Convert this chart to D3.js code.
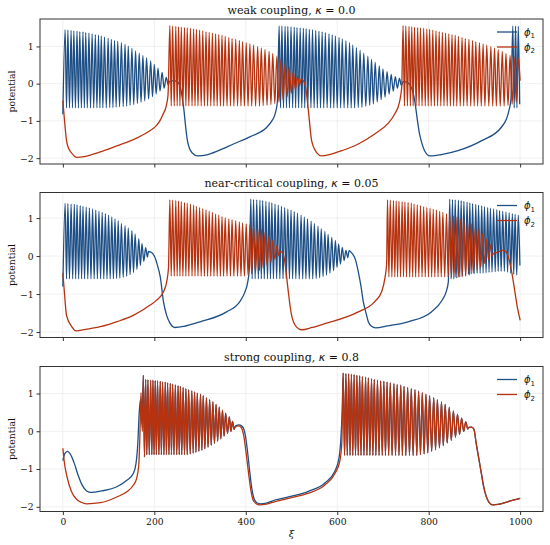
<!DOCTYPE html>
<html><head><meta charset="utf-8">
<script src="https://cdn.jsdelivr.net/npm/d3@7"></script>
<style>body{margin:0;background:#fff}svg{display:block}</style>
</head><body>
<svg id="c" width="550" height="545"></svg>
<script>
// ---------- labels ----------
const titles = ["weak coupling, ", "near-critical coupling, ", "strong coupling, "];
const kappas = ["0.0", "0.05", "0.8"];
const seriesNames = ["1", "2"];
const xTicks = [0, 200, 400, 600, 800, 1000];
const yTicks = [-2, -1, 0, 1];
const xiRange = [0, 1000];

// ---------- weak coupling (kappa = 0.0) ----------
const w1_slow = [[0,-0.82],[233,0.06],[243,0.08],[252,0.03],[258,-0.15],[262,-0.45],[265,-0.73],[268,-1.1],[272,-1.5],[277,-1.74],[283,-1.86],[295,-1.94],[315,-1.91],[340,-1.8],[373,-1.62],[410,-1.42],[446,-1.17],[457,-1.0],[464,-0.82],[469,-0.5],
 [744,0.06],[752,0.04],[760,-0.05],[766,-0.25],[770,-0.5],[775,-0.95],[780,-1.35],[784,-1.55],[791,-1.8],[803,-1.94],[830,-1.9],[864,-1.8],[916,-1.53],[959,-1.17],[970,-0.95],[976,-0.7],[980,-0.4]];
const w1_b1_t = [5,11,18,24,31,37,44,50,57,64,71,78,84,91,99,106,113,120,128,136,143,151,159,167,175,183,192,200,208,217,226];
const w1_b1_pk = [1.45,1.44,1.43,1.42,1.41,1.40,1.39,1.37,1.36,1.34,1.32,1.30,1.28,1.25,1.22,1.19,1.16,1.14,1.10,1.06,1.01,0.95,0.88,0.82,0.76,0.69,0.61,0.52,0.42,0.30,0.17];
const w1_b1_tr = [-0.65,-0.65,-0.65,-0.65,-0.65,-0.65,-0.65,-0.65,-0.65,-0.65,-0.65,-0.65,-0.65,-0.65,-0.64,-0.64,-0.63,-0.62,-0.61,-0.60,-0.58,-0.56,-0.53,-0.50,-0.46,-0.41,-0.35,-0.28,-0.20,-0.12,-0.04];
const w1_b2_t = [473,479,486,492,499,506,512,519,526,532,539,546,553,560,567,574,582,589,596,604,611,619,627,634,642,650,658,667,675,683,692,700,709,718,727,736];
const w1_b2_pk = [1.55,1.55,1.54,1.54,1.53,1.52,1.51,1.50,1.49,1.48,1.46,1.45,1.43,1.41,1.39,1.37,1.34,1.31,1.28,1.24,1.20,1.15,1.10,1.04,0.97,0.90,0.82,0.74,0.65,0.57,0.48,0.40,0.32,0.25,0.19,0.14];
const w1_b2_tr = [-0.65,-0.65,-0.65,-0.65,-0.65,-0.65,-0.65,-0.65,-0.65,-0.65,-0.65,-0.65,-0.65,-0.65,-0.65,-0.65,-0.65,-0.65,-0.65,-0.65,-0.65,-0.65,-0.65,-0.65,-0.64,-0.63,-0.61,-0.58,-0.54,-0.49,-0.43,-0.36,-0.28,-0.20,-0.12,-0.05];
const w1_b3_t = [984,990,996];
const w1_b3_pk = [1.55,1.55,1.54];
const w1_b3_tr = [-0.65,-0.65,-0.55];

const w2_slow = [[0,-0.45],[3,-0.9],[8,-1.53],[13,-1.75],[19,-1.86],[30,-1.98],[50,-1.95],[80,-1.84],[118,-1.67],[160,-1.47],[191,-1.26],[205,-1.12],[213,-0.98],[219,-0.82],[226,-0.6],[230,-0.3],
 [521,0.12],[526,0.08],[531,-0.1],[537,-0.73],[544,-1.53],[555,-1.85],[566,-1.94],[585,-1.9],[610,-1.8],[646,-1.62],[682,-1.35],[710,-1.08],[726,-0.81],[736,-0.5],[741,-0.1]];
const w2_b1_t = [234,240,247,253,259,266,272,279,286,292,299,306,313,320,327,334,341,348,355,363,370,378,386,393,401,409,417,426,434,442,451,459,468,477,486,495,504,513];
const w2_b1_pk = [1.56,1.55,1.54,1.53,1.52,1.51,1.50,1.49,1.47,1.46,1.44,1.42,1.40,1.38,1.36,1.34,1.32,1.30,1.27,1.24,1.21,1.19,1.16,1.13,1.10,1.07,1.04,1.00,0.96,0.92,0.87,0.81,0.74,0.65,0.55,0.44,0.32,0.20];
const w2_b1_tr = [-0.6,-0.6,-0.6,-0.6,-0.6,-0.6,-0.6,-0.6,-0.6,-0.6,-0.6,-0.6,-0.6,-0.6,-0.6,-0.6,-0.6,-0.6,-0.6,-0.6,-0.6,-0.6,-0.6,-0.6,-0.6,-0.6,-0.6,-0.6,-0.59,-0.58,-0.56,-0.53,-0.49,-0.43,-0.35,-0.26,-0.16,-0.05];
const w2_b2_t = [744,750,757,763,769,776,782,789,796,802,809,816,823,830,837,844,851,858,865,873,880,888,896,903,911,919,927,936,944,952,961,969,978,987,996];
const w2_b2_pk = [1.56,1.55,1.54,1.53,1.52,1.51,1.50,1.49,1.47,1.46,1.44,1.42,1.40,1.38,1.36,1.34,1.32,1.30,1.27,1.24,1.21,1.19,1.16,1.13,1.10,1.07,1.04,1.00,0.96,0.92,0.87,0.81,0.76,0.72,0.68];
const w2_b2_tr = [-0.6,-0.6,-0.6,-0.6,-0.6,-0.6,-0.6,-0.6,-0.6,-0.6,-0.6,-0.6,-0.6,-0.6,-0.6,-0.6,-0.6,-0.6,-0.6,-0.6,-0.6,-0.6,-0.6,-0.6,-0.6,-0.6,-0.6,-0.6,-0.6,-0.6,-0.6,-0.58,-0.55,-0.5,0.08];

// ---------- near-critical coupling (kappa = 0.05) ----------
const n1_slow = [[0,-0.8],[187,0.12],[193,0.1],[200,0.0],[207,-0.25],[213,-0.55],[220,-1.2],[227,-1.56],[234,-1.76],[245,-1.88],[265,-1.85],[300,-1.73],[358,-1.47],[387,-1.2],[398,-0.95],[404,-0.7],[408,-0.3],
 [626,0.14],[632,0.08],[640,-0.1],[646,-0.41],[652,-0.8],[657,-1.2],[663,-1.5],[668,-1.73],[675,-1.85],[684,-1.89],[710,-1.84],[755,-1.73],[806,-1.47],[830,-1.15],[838,-0.95],[843,-0.68]];
const n1_b1_t = [5,11,18,25,31,38,44,51,58,65,72,79,86,93,100,107,114,121,128,136,143,151,158,166,173,181];
const n1_b1_pk = [1.39,1.38,1.37,1.36,1.35,1.33,1.31,1.29,1.27,1.24,1.21,1.18,1.15,1.12,1.08,1.03,0.98,0.93,0.86,0.80,0.74,0.67,0.58,0.46,0.33,0.22];
const n1_b1_tr = [-0.6,-0.6,-0.6,-0.6,-0.6,-0.6,-0.6,-0.6,-0.6,-0.6,-0.6,-0.6,-0.6,-0.6,-0.6,-0.6,-0.59,-0.58,-0.56,-0.53,-0.49,-0.43,-0.35,-0.25,-0.14,-0.03];
const n1_b2_t = [411,417,424,431,437,444,451,457,464,471,478,485,492,499,506,513,521,528,535,543,550,558,565,573,580,588,596,603,611,619];
const n1_b2_pk = [1.50,1.49,1.48,1.47,1.46,1.44,1.42,1.40,1.37,1.34,1.31,1.28,1.24,1.21,1.17,1.13,1.08,1.03,0.98,0.92,0.86,0.79,0.72,0.65,0.57,0.49,0.41,0.32,0.23,0.15];
const n1_b2_tr = [-0.6,-0.6,-0.6,-0.6,-0.6,-0.6,-0.6,-0.6,-0.6,-0.6,-0.6,-0.6,-0.6,-0.6,-0.6,-0.6,-0.6,-0.6,-0.6,-0.6,-0.59,-0.57,-0.54,-0.5,-0.45,-0.38,-0.3,-0.21,-0.12,-0.04];
const n1_b3_t = [846,852,858,865,871,877,884,890,896,903,909,916,922,929,935,942,949,955,962,969,976,983,989,996];
const n1_b3_pk = [1.50,1.49,1.48,1.47,1.46,1.44,1.42,1.40,1.38,1.36,1.34,1.32,1.30,1.28,1.26,1.24,1.22,1.20,1.18,1.16,1.14,1.12,1.10,1.08];
const n1_b3_tr = [-0.6,-0.6,-0.58,-0.55,-0.52,-0.5,-0.48,-0.47,-0.46,-0.45,-0.45,-0.45,-0.44,-0.43,-0.42,-0.41,-0.4,-0.4,-0.4,-0.42,-0.45,-0.48,-0.5,-0.25];

const n2_slow = [[0,-0.45],[3,-0.9],[8,-1.56],[19,-1.85],[29,-1.97],[50,-1.93],[82,-1.86],[120,-1.72],[154,-1.56],[191,-1.29],[205,-1.16],[220,-0.94],[227,-0.68],[231,-0.3],
 [474,0.12],[480,0.1],[484,-0.05],[488,-0.4],[493,-0.94],[500,-1.55],[511,-1.87],[522,-1.94],[545,-1.88],[573,-1.78],[646,-1.47],[682,-1.2],[697,-0.94],[704,-0.6],[708,-0.2],
 [940,0.05],[950,0.1],[962,0.15],[970,0.1],[976,-0.1],[982,-0.45],[988,-0.9],[994,-1.35],[1000,-1.69]];
const n2_b1_t = [234,240,247,253,259,266,272,279,286,292,299,306,313,320,327,334,341,348,355,363,370,378,386,393,401,409,417,426,434,442,451,459,468];
const n2_b1_pk = [1.48,1.47,1.46,1.45,1.43,1.41,1.39,1.37,1.34,1.31,1.28,1.25,1.22,1.18,1.15,1.11,1.08,1.04,1.01,0.98,0.96,0.93,0.90,0.87,0.85,0.82,0.78,0.74,0.69,0.62,0.53,0.42,0.28];
const n2_b1_tr = [-0.53,-0.53,-0.53,-0.53,-0.53,-0.53,-0.53,-0.53,-0.53,-0.53,-0.53,-0.53,-0.53,-0.53,-0.53,-0.53,-0.53,-0.53,-0.53,-0.53,-0.53,-0.53,-0.53,-0.53,-0.5,-0.47,-0.43,-0.38,-0.32,-0.25,-0.17,-0.08,0.0];
const n2_b2_t = [710,716,723,729,735,742,748,755,762,768,775,782,789,796,803,810,817,824,831,839,846,854,862,869,877,885,893,902,910,918,927,935];
const n2_b2_pk = [1.48,1.47,1.46,1.45,1.44,1.43,1.42,1.41,1.39,1.37,1.35,1.33,1.30,1.28,1.26,1.23,1.21,1.18,1.15,1.12,1.09,1.06,1.03,0.99,0.95,0.90,0.85,0.79,0.71,0.60,0.45,0.30];
const n2_b2_tr = [-0.55,-0.55,-0.55,-0.55,-0.55,-0.55,-0.55,-0.55,-0.55,-0.55,-0.55,-0.55,-0.55,-0.55,-0.55,-0.55,-0.55,-0.55,-0.55,-0.55,-0.55,-0.55,-0.55,-0.55,-0.53,-0.5,-0.45,-0.38,-0.3,-0.2,-0.1,0.0];

// ---------- strong coupling (kappa = 0.8): synchronized bursts ----------
const s_bA_t = [176,181,186,192,197,202,207,213,218,224,229,235,240,246,252,257,263,269,275,282,288,294,301,307,314,321,328,335,342,349,356,364,371];
const s_bA_pk = [1.48,1.37,1.36,1.35,1.35,1.34,1.33,1.32,1.31,1.30,1.28,1.27,1.25,1.23,1.21,1.19,1.16,1.13,1.10,1.07,1.04,1.01,0.98,0.94,0.89,0.84,0.78,0.71,0.64,0.56,0.48,0.38,0.26];
const s_bA_tr = [-0.68,-0.62,-0.62,-0.62,-0.62,-0.62,-0.62,-0.62,-0.62,-0.62,-0.62,-0.62,-0.62,-0.62,-0.62,-0.62,-0.62,-0.62,-0.6,-0.58,-0.56,-0.53,-0.5,-0.46,-0.42,-0.37,-0.32,-0.26,-0.2,-0.13,-0.06,0.0,0.05];
const s_bB_t = [613,619,625,631,637,643,649,655,662,668,675,681,688,695,702,709,716,724,731,739,746,754,762,770,778,786,794,802,811,819,828,836,845,854,863,872,881];
const s_bB_pk = [1.54,1.53,1.52,1.51,1.50,1.48,1.47,1.45,1.43,1.41,1.39,1.37,1.35,1.33,1.32,1.30,1.28,1.26,1.24,1.22,1.19,1.16,1.13,1.10,1.06,1.02,0.98,0.94,0.89,0.84,0.78,0.71,0.63,0.54,0.45,0.35,0.25];
const s_bB_tr = [-0.64,-0.64,-0.64,-0.64,-0.64,-0.64,-0.64,-0.64,-0.64,-0.64,-0.64,-0.64,-0.64,-0.64,-0.64,-0.64,-0.64,-0.64,-0.64,-0.64,-0.64,-0.64,-0.64,-0.64,-0.62,-0.6,-0.57,-0.53,-0.49,-0.44,-0.38,-0.31,-0.24,-0.16,-0.08,0.0,0.06];
const s1_slow = [[0,-0.78],[4,-0.6],[10,-0.53],[16,-0.6],[25,-0.85],[33,-1.15],[42,-1.42],[52,-1.58],[62,-1.62],[85,-1.58],[118,-1.47],[140,-1.3],[154,-1.12],[160,-0.85],[164,-0.3],[167,0.5],[170,0.85],[173,0.2],
 [377,0.14],[386,0.17],[393,0.12],[399,-0.1],[404,-0.55],[408,-1.0],[413,-1.5],[418,-1.78],[425,-1.9],[432,-1.92],[445,-1.9],[464,-1.82],[500,-1.72],[537,-1.59],[573,-1.37],[595,-1.05],[604,-0.7],[608,-0.2],[611,0.6],
 [888,0.1],[894,0.11],[899,0.05],[904,-0.33],[910,-0.75],[915,-1.1],[920,-1.45],[926,-1.73],[932,-1.88],[940,-1.95],[955,-1.93],[974,-1.86],[1000,-1.78]];
const s2_slow = [[0,-0.45],[3,-0.8],[9,-1.2],[19,-1.6],[30,-1.8],[40,-1.88],[52,-1.92],[82,-1.89],[118,-1.74],[140,-1.6],[154,-1.43],[161,-1.26],[166,-0.9],[168,-0.3],[170,0.6],[171,1.02],[172.5,0.3],[174,0.0],
 [376,0.1],[384,0.14],[390,0.1],[396,-0.15],[401,-0.6],[406,-1.1],[411,-1.55],[416,-1.82],[423,-1.92],[430,-1.95],[445,-1.93],[464,-1.86],[500,-1.76],[537,-1.64],[573,-1.42],[595,-1.12],[606,-0.77],[610,-0.3],[611.5,0.6],
 [888,0.1],[894,0.11],[899,0.05],[904,-0.33],[910,-0.75],[915,-1.1],[920,-1.45],[926,-1.73],[932,-1.88],[940,-1.95],[955,-1.93],[974,-1.86],[1000,-1.78]];

// ---------- assemble series (slow phases + burst spikes) ----------
function build(slow, bursts) {
  const pts = slow.map(d => [d[0], d[1]]);
  bursts.forEach(([t, pk, tr]) => {
    t.forEach((ti, i) => {
      const isi = i < t.length - 1 ? t[i + 1] - ti : ti - t[i - 1];
      pts.push([ti, pk[i]]);
      pts.push([Math.min(ti + isi * 0.5, xiRange[1]), tr[i]]);
    });
  });
  return pts.sort((a, b) => a[0] - b[0]);
}
const panels = [
  [build(w1_slow, [[w1_b1_t,w1_b1_pk,w1_b1_tr],[w1_b2_t,w1_b2_pk,w1_b2_tr],[w1_b3_t,w1_b3_pk,w1_b3_tr]]),
   build(w2_slow, [[w2_b1_t,w2_b1_pk,w2_b1_tr],[w2_b2_t,w2_b2_pk,w2_b2_tr]])],
  [build(n1_slow, [[n1_b1_t,n1_b1_pk,n1_b1_tr],[n1_b2_t,n1_b2_pk,n1_b2_tr],[n1_b3_t,n1_b3_pk,n1_b3_tr]]),
   build(n2_slow, [[n2_b1_t,n2_b1_pk,n2_b1_tr],[n2_b2_t,n2_b2_pk,n2_b2_tr]])],
  [build(s1_slow, [[s_bA_t,s_bA_pk,s_bA_tr],[s_bB_t,s_bB_pk,s_bB_tr]]),
   build(s2_slow, [[s_bA_t,s_bA_pk,s_bA_tr],[s_bB_t,s_bB_pk,s_bB_tr]])]
];

// ---------- drawing ----------
const colors = ["#1d4f86", "#b7330f"];
const serif = "'DejaVu Serif', serif";
const svg = d3.select("#c");
const L = 40, R = 543, panelTops = [19, 192.5, 366.5], PH = 145;
const span = xiRange[1] - xiRange[0];
const x = d3.scaleLinear().domain([xiRange[0] - 0.05 * span, xiRange[1] + 0.05 * span]).range([L, R]);

panels.forEach((series, p) => {
  const top = panelTops[p], bot = top + PH;
  const all = series.flat();
  const [lo, hi] = d3.extent(all, d => d[1]);
  const pad = 0.05 * (hi - lo);
  const y = d3.scaleLinear().domain([lo - pad, hi + pad]).range([bot, top]);
  const g = svg.append("g");

  // grid
  g.append("g").selectAll("line.gx").data(xTicks).join("line")
    .attr("x1", d => x(d)).attr("x2", d => x(d)).attr("y1", top).attr("y2", bot)
    .attr("stroke", "#ececec").attr("stroke-width", 0.8);
  g.append("g").selectAll("line.gy").data(yTicks).join("line")
    .attr("y1", d => y(d)).attr("y2", d => y(d)).attr("x1", L).attr("x2", R)
    .attr("stroke", "#ececec").attr("stroke-width", 0.8);

  // clip
  const cid = "clip" + p;
  svg.append("clipPath").attr("id", cid).append("rect")
    .attr("x", L).attr("y", top).attr("width", R - L).attr("height", PH);

  const line = d3.line().x(d => x(d[0])).y(d => y(d[1])).curve(d3.curveMonotoneX);
  const lg = g.append("g").attr("clip-path", `url(#${cid})`);
  series.forEach((s, k) => {
    lg.append("path").attr("d", line(s)).attr("fill", "none")
      .attr("stroke", colors[k]).attr("stroke-width", 1.3).attr("stroke-linejoin", "round");
  });

  // frame
  g.append("rect").attr("x", L).attr("y", top).attr("width", R - L).attr("height", PH)
    .attr("fill", "none").attr("stroke", "#333").attr("stroke-width", 1);

  // axes
  const ax = g.append("g").attr("transform", `translate(0,${bot})`)
    .call(d3.axisBottom(x).tickValues(xTicks).tickSize(3.5).tickPadding(3)
      .tickFormat(p === 2 ? d3.format("d") : () => ""));
  const ay = g.append("g").attr("transform", `translate(${L},0)`)
    .call(d3.axisLeft(y).tickValues(yTicks).tickSize(3.5).tickPadding(3).tickFormat(d3.format("d")));
  [ax, ay].forEach(a => {
    a.select(".domain").remove();
    a.selectAll("line").attr("stroke", "#333");
    a.selectAll("text").attr("fill", "#111").style("font-family", serif).style("font-size", "9.2px");
  });

  // title
  const t = g.append("text").attr("x", (L + R) / 2).attr("y", top - 5.5)
    .attr("text-anchor", "middle").style("font-family", serif).style("font-size", "11px").attr("fill", "#111");
  t.append("tspan").text(titles[p]);
  t.append("tspan").style("font-style", "italic").style("font-family", "'DejaVu Sans', sans-serif").text("κ");
  t.append("tspan").text(" = " + kappas[p]);

  // y label
  g.append("text").attr("transform", `translate(15,${(top + bot) / 2}) rotate(-90)`)
    .attr("text-anchor", "middle").style("font-family", serif).style("font-size", "9.3px")
    .attr("fill", "#111").text("potential");

  // legend
  seriesNames.forEach((nm, k) => {
    const ly = top + 13 + k * 15;
    g.append("line").attr("x1", 497).attr("x2", 517).attr("y1", ly).attr("y2", ly)
      .attr("stroke", colors[k]).attr("stroke-width", 1.3);
    const lt = g.append("text").attr("x", 524).attr("y", ly + 3.5)
      .style("font-family", "'DejaVu Sans', sans-serif").style("font-size", "10px").attr("fill", "#111");
    lt.append("tspan").style("font-style", "italic").text("ϕ");
    lt.append("tspan").attr("dy", 2.5).style("font-size", "7px").text(nm);
  });
});

// x label
svg.append("text").attr("x", (L + R) / 2).attr("y", 537).attr("text-anchor", "middle")
  .style("font-family", serif).style("font-style", "italic").style("font-size", "10px")
  .attr("fill", "#111").text("ξ");
</script>
</body></html>
